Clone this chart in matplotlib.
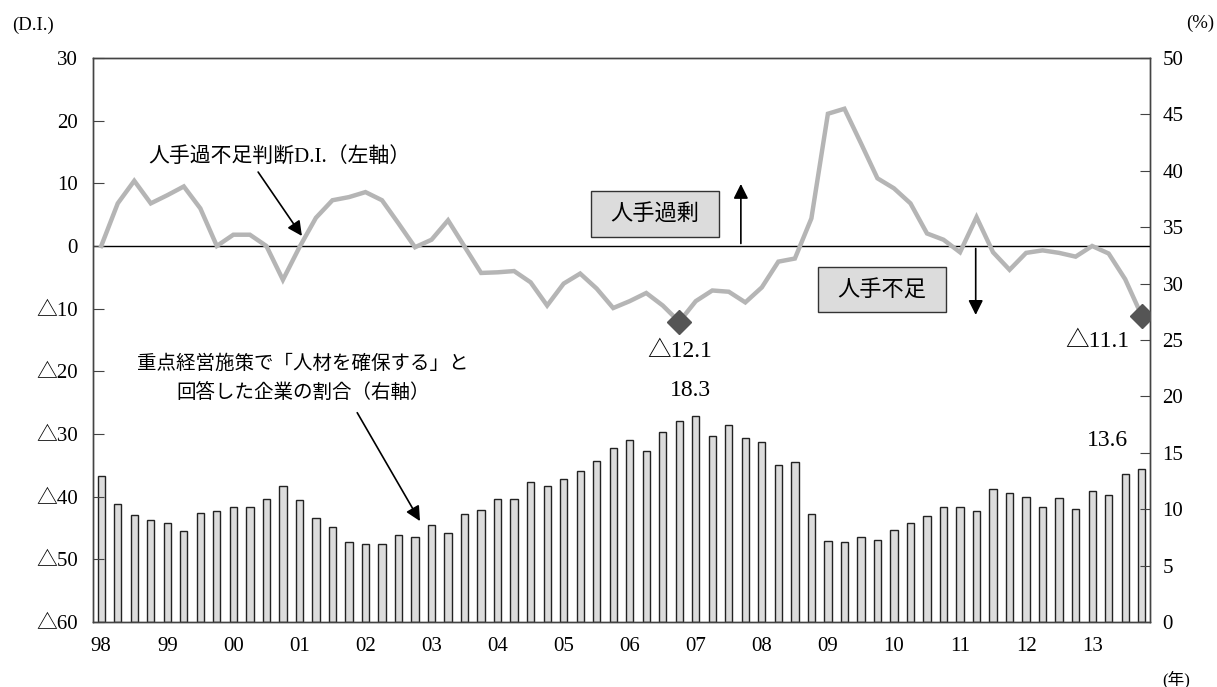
import matplotlib
matplotlib.use("Agg")
import matplotlib.pyplot as plt
from matplotlib.patches import Rectangle
from matplotlib.ticker import FuncFormatter, MultipleLocator

plt.rcParams['font.family'] = ['Liberation Serif', 'Noto Sans CJK JP', 'DejaVu Sans']
JP = ['Noto Sans CJK JP', 'DejaVu Sans']

# quarterly, 1998Q1 - 2013Q4
year_labels = ['98', '99', '00', '01', '02', '03', '04', '05',
               '06', '07', '08', '09', '10', '11', '12', '13']

# 人手過不足判断D.I.
di = [0.0, 6.8, 10.4, 6.8, 8.1, 9.5, 6.0, 0.0, 1.8, 1.8,
      0.0, -5.4, -0.2, 4.5, 7.3, 7.8, 8.6, 7.3, 3.6, -0.2,
      1.0, 4.1, -0.1, -4.3, -4.2, -4.0, -5.8, -9.5, -6.0, -4.4,
      -6.8, -9.9, -8.8, -7.5, -9.5, -12.1, -8.8, -7.1, -7.3, -9.0,
      -6.6, -2.5, -2.0, 4.4, 21.1, 21.9, 16.4, 10.8, 9.2, 6.8,
      2.0, 1.0, -1.0, 4.6, -1.0, -3.8, -1.1, -0.7, -1.1, -1.7,
      0.0, -1.2, -5.3, -11.1]

# 「人材を確保する」と回答した企業の割合 (%)
share = [12.9, 10.5, 9.5, 9.0, 8.8, 8.1, 9.7, 9.8, 10.2, 10.2,
         10.9, 12.1, 10.8, 9.2, 8.4, 7.1, 6.9, 6.9, 7.7, 7.5,
         8.6, 7.9, 9.6, 9.9, 10.9, 10.9, 12.4, 12.1, 12.7, 13.4,
         14.3, 15.4, 16.1, 15.2, 16.8, 17.8, 18.3, 16.5, 17.5, 16.3,
         16.0, 13.9, 14.2, 9.6, 7.2, 7.1, 7.5, 7.3, 8.2, 8.8,
         9.4, 10.2, 10.2, 9.8, 11.8, 11.4, 11.1, 10.2, 11.0, 10.0,
         11.6, 11.3, 13.1, 13.6]

x = list(range(len(di)))
i_min = 35          # 2006Q4
i_last = len(di) - 1
i_peak = 36         # 2007Q1

fig = plt.figure(figsize=(12.17, 6.87), dpi=100)
ax = fig.add_axes([0.0764, 0.0946, 0.8685, 0.821])
ax2 = ax.twinx()

# bars on the right axis, kept under the D.I. line
ax2.bar(x, share, width=0.44, color='#dcdcdc', edgecolor='#222222', linewidth=1.0)
ax.set_zorder(ax2.get_zorder() + 1)
ax.patch.set_visible(False)

ax.axhline(0, color='black', lw=1.0, zorder=1)
ax.plot(x, di, color='#b5b5b5', lw=3.2, solid_joinstyle='miter', zorder=3)
ax.plot([i_min, i_last], [di[i_min], di[i_last]], ls='none', marker='D',
        ms=12, color='#555555', zorder=4)

ax.set_xlim(-0.5, len(di) - 0.5)
ax.set_ylim(-60, 30)
ax2.set_ylim(0, 50)
ax.yaxis.set_major_locator(MultipleLocator(10))
ax2.yaxis.set_major_locator(MultipleLocator(5))
ax.yaxis.set_major_formatter(FuncFormatter(lambda v, p: f"△{-v:.0f}" if v < 0 else f"{v:.0f}"))

ax.set_xticks(range(0, len(di), 4))
ax.set_xticklabels(year_labels)
ax.tick_params(axis='x', length=0, pad=11, labelsize=15)
ax.tick_params(axis='y', direction='in', length=8, pad=11, labelsize=15, color='#444444')
ax2.tick_params(axis='y', direction='in', length=7, pad=9, labelsize=15, color='#444444')
for a in (ax, ax2):
    for s in a.spines.values():
        s.set_color('#444444')
        s.set_linewidth(1.0)

# value labels
ax.text(i_min, -16.9, f"△{abs(di[i_min])}", ha='center', va='center', fontsize=17)
ax.text(i_last - 2.7, -15.3, f"△{abs(di[i_last])}", ha='center', va='center', fontsize=17)
ax2.text(i_peak - 0.3, share[i_peak] + 2.2, f"{share[i_peak]}", ha='center', va='center', fontsize=17)
ax2.text(i_last - 2.1, share[i_last] + 2.45, f"{share[i_last]}", ha='center', va='center', fontsize=17)

# series callouts
arrow = dict(arrowstyle='-|>', color='black', lw=1.2, mutation_scale=22, shrinkA=0, shrinkB=0)
ax.text(10.8, 14.0, "人手過不足判断D.I.（左軸）", ha='center', va='center', fontsize=15)
ax.annotate("", xy=(12.15, 1.6), xytext=(9.5, 11.8), arrowprops=arrow)
ax.text(12.2, -18.7, "重点経営施策で「人材を確保する」と", ha='center', va='center', fontsize=14, family=JP)
ax.text(12.2, -23.45, "回答した企業の割合（右軸）", ha='center', va='center', fontsize=14, family=JP)
ax.annotate("", xy=(19.3, -43.9), xytext=(15.5, -26.6), arrowprops=arrow)

# surplus / shortage boxes
ax.add_patch(Rectangle((29.65, 1.45), 7.75, 7.35, facecolor='#dcdcdc', edgecolor='#333333', lw=1.0, zorder=2))
ax.text(33.52, 5.1, "人手過剰", ha='center', va='center', fontsize=16, family=JP, zorder=5)
ax.annotate("", xy=(38.73, 9.9), xytext=(38.73, 0.4), arrowprops=arrow)
ax.add_patch(Rectangle((43.4, -10.55), 7.75, 7.2, facecolor='#dcdcdc', edgecolor='#333333', lw=1.0, zorder=2))
ax.text(47.27, -7.0, "人手不足", ha='center', va='center', fontsize=16, family=JP, zorder=5)
ax.annotate("", xy=(52.95, -11.0), xytext=(52.95, -0.4), arrowprops=arrow)

# unit labels
fig.text(12 / 1217, 1 - 25 / 687, "(D.I.)", ha='left', va='center', fontsize=13.5)
fig.text(1214 / 1217, 1 - 23 / 687, "(%)", ha='right', va='center', fontsize=13.5)
fig.text(1190 / 1217, 1 - 680 / 687, "(年)", ha='right', va='center', fontsize=12)

fig.savefig("out.png", dpi=100)
